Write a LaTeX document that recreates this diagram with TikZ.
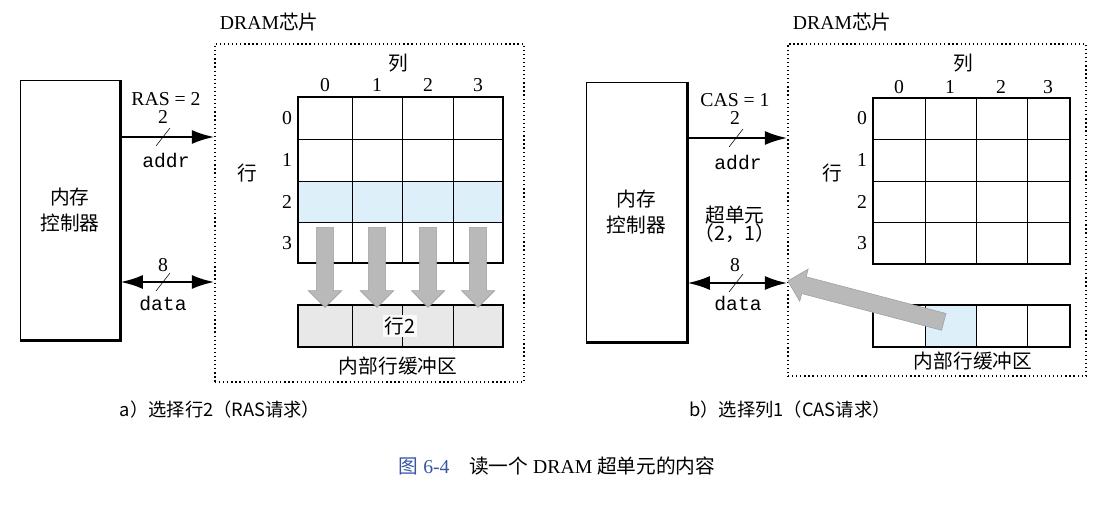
\documentclass[tikz,border=0pt]{standalone}
\usepackage{fontspec}
\setmainfont{Liberation Serif}
\setmonofont{Liberation Mono}
\newfontfamily\zh{Noto Sans CJK SC}
\usetikzlibrary{arrows.meta,shapes.arrows}
\definecolor{cellblue}{RGB}{221,240,250}
\definecolor{capblue}{RGB}{55,85,165}
\tikzset{
  txt/.style={font=\fontsize{14}{16}\selectfont},
  mono/.style={font=\fontsize{14}{16}\selectfont\ttfamily},
  ctrl/.style={draw, line width=0.5pt, align=center, font=\fontsize{14}{18}\selectfont\zh},
  chip/.style={draw, dotted, line width=0.9pt},
  bus/.style={line width=1.8pt},
  busend/.style={-{Latex[length=16pt,width=10pt]}},
  busboth/.style={{Latex[length=16pt,width=10pt]}-{Latex[length=16pt,width=10pt]}},
  fatarrow/.style={single arrow, draw=gray!75, fill=gray!55, inner sep=0.21cm,
    single arrow head extend=0.2cm, single arrow head indent=0pt}
}
\begin{document}
\begin{tikzpicture}[x=0.025cm,y=-0.025cm]
    \useasboundingbox (0,0) rectangle (1107,507);

    % ---------- a) row access ----------
    % memory controller
    \node[ctrl, minimum width=2.5cm, minimum height=6.5cm] (mc1) at (70,210) {内存\\控制器};
    \draw[line width=2pt] (mc1.north east) -- (mc1.south east) -- (mc1.south west);

    % DRAM chip
    \node[chip, minimum width=7.725cm, minimum height=8.45cm] (chip1) at (369.5,213) {};
    \node[txt, anchor=west] (chipname1) at (215,22) {DRAM{\zh 芯片}};

    % addr and data buses
    \coordinate (ay1) at (0,137);
    \coordinate (dy1) at (0,282);
    \draw[bus, busend] (mc1.east |- ay1) -- (chip1.west |- ay1);
    \draw[bus, busboth] (mc1.east |- dy1) -- (chip1.west |- dy1);
    \draw (156,146) -- (170,128);
    \draw (156,291) -- (170,273);
    \node[txt] (ras) at (166,99) {RAS = 2};
    \node[txt] (aw1) at (163,117) {2};
    \node[mono] (addr1) at (166,160) {addr};
    \node[txt] (dw1) at (163,265) {8};
    \node[mono] (data1) at (163,303) {data};

    % cell array, row 2 selected
    \fill[cellblue] (298,181) rectangle (503,222);
    \foreach \x in {352,402,453} \draw[thin] (\x,97) -- (\x,263);
    \foreach \y in {139,181,222} \draw[thin] (298,\y) -- (503,\y);
    \draw[line width=1.6pt] (298,97) rectangle (503,263);
    \node[txt] (collbl1) at (398,63) {\zh 列};
    \node[txt] (rowlbl1) at (247,173) {\zh 行};
    \foreach \i/\x in {0/325,1/377,2/428,3/478} \node[txt] (c1\i) at (\x,85) {\i};
    \foreach \i/\y in {0/118,1/160,2/202,3/243} \node[txt] (r1\i) at (287,\y) {\i};

    % row buffer
    \draw[line width=1.6pt, fill=gray!18] (298,305) rectangle (503,347);
    \foreach \x in {352,402,453} \draw[thin] (\x,305) -- (\x,347);
    \node[txt, fill=gray!4, inner sep=1.5pt] (row2) at (400,326) {\zh 行2};
    \node[txt] (buf1) at (398,366) {\zh 内部行缓冲区};

    % row copied into the buffer
    \foreach \x [count=\i] in {325,377,428,478}
        \node[fatarrow, rotate=-90, minimum height=2cm] (dn\i) at (\x,263) {};

    % ---------- b) column access ----------
    % memory controller
    \node[ctrl, minimum width=2.525cm, minimum height=6.5cm] (mc2) at (636.5,212) {内存\\控制器};
    \draw[line width=2pt] (mc2.north east) -- (mc2.south east) -- (mc2.south west);

    % DRAM chip
    \node[chip, minimum width=7.45cm, minimum height=8.3cm] (chip2) at (937,210) {};
    \node[txt, anchor=west] (chipname2) at (788,22) {DRAM{\zh 芯片}};

    % addr and data buses
    \coordinate (ay2) at (0,138);
    \coordinate (dy2) at (0,283);
    \draw[bus, busend] (mc2.east |- ay2) -- (chip2.west |- ay2);
    \draw[bus, busboth] (mc2.east |- dy2) -- (chip2.west |- dy2);
    \draw (729,147) -- (743,129);
    \draw (729,292) -- (743,274);
    \node[txt] (cas) at (735,100) {CAS = 1};
    \node[txt] (aw2) at (735,118) {2};
    \node[mono] (addr2) at (738,162) {addr};
    \node[txt] (sup) at (735,215) {\zh 超单元};
    \node[txt] (supidx) at (735,233) {\zh （2，1）};
    \node[txt] (dw2) at (735,265) {8};
    \node[mono] (data2) at (738,303) {data};

    % cell array
    \foreach \x in {925,976,1027} \draw[thin] (\x,98) -- (\x,264);
    \foreach \y in {139,181,222} \draw[thin] (873,\y) -- (1070,\y);
    \draw[line width=1.6pt] (873,98) rectangle (1070,264);
    \node[txt] (collbl2) at (963,63) {\zh 列};
    \node[txt] (rowlbl2) at (832,173) {\zh 行};
    \foreach \i/\x in {0/899,1/950,2/1001,3/1048} \node[txt] (c2\i) at (\x,87) {\i};
    \foreach \i/\y in {0/118,1/160,2/202,3/243} \node[txt] (r2\i) at (862,\y) {\i};

    % row buffer, column 1 selected
    \fill[cellblue] (925,305) rectangle (976,347);
    \foreach \x in {925,976,1027} \draw[thin] (\x,305) -- (\x,347);
    \draw[line width=1.6pt] (873,305) rectangle (1070,347);
    \node[txt] (buf2) at (973,361) {\zh 内部行缓冲区};

    % supercell sent to the data pins
    \node[fatarrow, rotate=165.3, minimum height=4.03cm] (out) at (870,302.5) {};

    % ---------- captions ----------
    \node[font=\fontsize{13}{15}\selectfont\zh] (capa) at (220,410) {a）选择行2（RAS请求）};
    \node[font=\fontsize{13}{15}\selectfont\zh] (capb) at (790,410) {b）选择列1（CAS请求）};
    \node[font=\fontsize{14}{16}\selectfont] (fig) at (557,466)
        {\textcolor{capblue}{{\zh 图} 6-4}\quad{\zh 读一个} DRAM {\zh 超单元的内容}};
\end{tikzpicture}
\end{document}
